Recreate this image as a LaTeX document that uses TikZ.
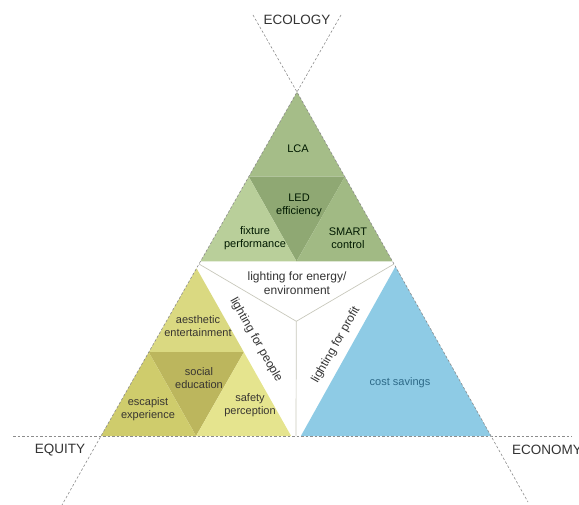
\documentclass[tikz,border=0pt]{standalone}
\usepackage{fontspec}
\setmainfont{Liberation Sans}
\usetikzlibrary{calc}

\definecolor{lcagreen}{HTML}{A5BD88}
\definecolor{ledgreen}{HTML}{8FA873}
\definecolor{fixgreen}{HTML}{B9CF9A}
\definecolor{smartgreen}{HTML}{A1BA84}
\definecolor{aesyellow}{HTML}{DAD981}
\definecolor{socyellow}{HTML}{BCB65D}
\definecolor{escyellow}{HTML}{CFCC6C}
\definecolor{safyellow}{HTML}{E5E48E}
\definecolor{costblue}{HTML}{8ECBE5}
\definecolor{axisgray}{HTML}{8C8C8C}
\definecolor{splitgray}{HTML}{C8C8BC}

\begin{document}
\begin{tikzpicture}[x=1pt,y=-1pt,
    axis/.style={axisgray,dash pattern=on 2.5pt off 2pt,line width=0.6pt},
    split/.style={splitgray,line width=0.7pt},
    corner/.style={font=\fontsize{13.5}{15}\selectfont,text=black!80},
    lens/.style={font=\fontsize{12}{14}\selectfont,text=black!80,align=center,inner sep=0pt},
    inner/.style={font=\fontsize{11}{13}\selectfont,align=center,inner sep=0pt}]
   \useasboundingbox (0,0) rectangle (579,505);
   % corners of the big triangle
   \coordinate (eco)  at (297,92);
   \coordinate (equ)  at (101,436);
   \coordinate (econ) at (491,436);
   \coordinate (c)    at (296.3,321.3);
   \coordinate (m_l) at ($(eco)!.5!(equ)$);
   \coordinate (m_r) at ($(eco)!.5!(econ)$);
   \coordinate (m_b) at ($(equ)!.5!(econ)$);
   % ecology triangle
   \coordinate (g_1) at ($(eco)!.985!(m_l)$);
   \coordinate (g_2) at ($(eco)!.985!(m_r)$);
   \coordinate (g_01) at ($(eco)!.5!(g_1)$);
   \coordinate (g_02) at ($(eco)!.5!(g_2)$);
   \coordinate (g_12) at ($(g_1)!.5!(g_2)$);
   \fill[lcagreen]   (eco) -- (g_01) -- (g_02) -- cycle;
   \fill[ledgreen]   (g_01) -- (g_02) -- (g_12) -- cycle;
   \fill[fixgreen]   (g_01) -- (g_1) -- (g_12) -- cycle;
   \fill[smartgreen] (g_02) -- (g_12) -- (g_2) -- cycle;
   % equity triangle
   \coordinate (y_1) at ($(equ)!.975!(m_l)$);
   \coordinate (y_2) at ($(equ)!.975!(m_b)$);
   \coordinate (y_01) at ($(equ)!.5!(y_1)$);
   \coordinate (y_02) at ($(equ)!.5!(y_2)$);
   \coordinate (y_12) at ($(y_1)!.5!(y_2)$);
   \fill[aesyellow] (y_1) -- (y_01) -- (y_12) -- cycle;
   \fill[socyellow] (y_01) -- (y_12) -- (y_02) -- cycle;
   \fill[escyellow] (y_01) -- (equ) -- (y_02) -- cycle;
   \fill[safyellow] (y_12) -- (y_02) -- (y_2) -- cycle;
   % economy triangle
   \coordinate (b_1) at ($(econ)!.985!(m_r)$);
   \coordinate (b_2) at ($(econ)!.975!(m_b)$);
   \fill[costblue] (econ) -- (b_1) -- (b_2) -- cycle;
   % white centre
   \draw[split] (c) -- (m_l) (c) -- (m_r) (c) -- (m_b);
   % axes
   \coordinate (ax_1) at (341,15);
   \coordinate (ax_2) at (62,505);
   \coordinate (ax_3) at (253,15);
   \coordinate (ax_4) at (528,502);
   \coordinate (ax_5) at (13,436);
   \coordinate (ax_6) at (572,436);
   \draw[axis] (ax_1) -- (eco) -- (equ) -- (ax_2);
   \draw[axis] (ax_3) -- (eco) -- (econ) -- (ax_4);
   \draw[axis] (ax_5) -- (equ) -- (econ) -- (ax_6);
   % labels
   \node[corner] (l_eco) at (297,20) {ECOLOGY};
   \node[corner] (l_equ) at (60,450) {EQUITY};
   \node[corner,anchor=west,inner sep=0pt] (l_econ) at (512,450) {ECONOMY};
   \node[inner,text=black!75!green!40!black] (lca) at (298,149) {LCA};
   \node[inner,text=black!75!green!40!black] (led) at (299,205) {LED\\efficiency};
   \node[inner,text=black!75!green!40!black] (fix) at (255,238) {fixture\\performance};
   \node[inner,text=black!75!green!40!black] (smart) at (348,238) {SMART\\control};
   \node[inner,text=black!75!yellow!40!black] (aes) at (198,326) {aesthetic\\entertainment};
   \node[inner,text=black!75!yellow!40!black] (soc) at (199,378) {social\\education};
   \node[inner,text=black!75!yellow!40!black] (esc) at (148,409) {escapist\\experience};
   \node[inner,text=black!75!yellow!40!black] (saf) at (250,405) {safety\\perception};
   \node[inner,text={rgb,255:red,45;green,105;blue,135}] (cost) at (400,383) {cost savings};
   \node[lens] (energy) at (297,283) {lighting for energy/\\environment};
   \node[lens,rotate=-60.6] (people) at (256,340) {lighting for people};
   \node[lens,rotate=60.3] (profit) at (336,345) {lighting for profit};
\end{tikzpicture}
\end{document}
